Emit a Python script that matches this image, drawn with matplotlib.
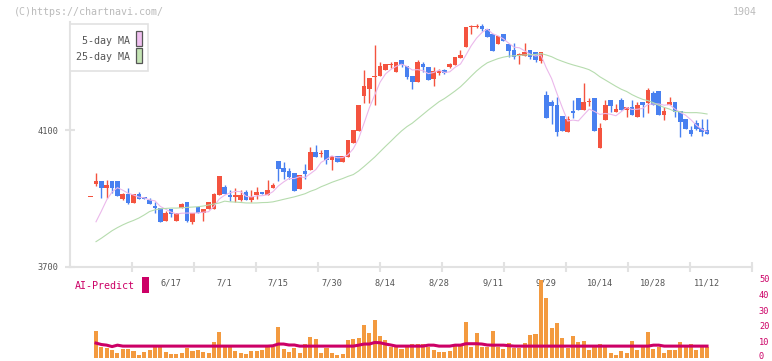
import numpy as np
import pandas as pd
import matplotlib
matplotlib.use("Agg")
import matplotlib.pyplot as plt
from matplotlib.patches import Rectangle
from matplotlib.transforms import ScaledTranslation

# ---- data (index 0 = flat no-trade day) ----
opens = [3903, 3943, 3951, 3930, 3951, 3951, 3898, 3914, 3888, 3914,
         3905, 3895, 3878, 3873, 3835, 3869, 3835, 3873, 3889, 3831,
         3875, 3857, 3868, 3868, 3909, 3933, 3910, 3903, 3896, 3918,
         3896, 3909, 3919, 3909, 3930, 4009, 3989, 3979, 3974, 3929,
         3980, 3983, 4036, 4029, 4042, 4012, 4024, 4007, 4020, 4063,
         4098, 4200, 4220, 4256, 4258, 4275, 4290, 4269, 4304, 4287,
         4258, 4240, 4293, 4284, 4249, 4266, 4275, 4284, 4290, 4310,
         4342, 4402, 4402, 4404, 4395, 4380, 4351, 4380, 4351, 4334,
         4319, 4316, 4334, 4328, 4301, 4202, 4182, 4173, 4141, 4095,
         4155, 4193, 4158, 4182, 4193, 4048, 4130, 4188, 4153, 4188,
         4158, 4167, 4138, 4182, 4179, 4208, 4214, 4144, 4173, 4182,
         4155, 4132, 4100, 4120, 4106, 4100]
highs = [3903, 3974, 3951, 3954, 3951, 3951, 3916, 3930, 3914, 3920,
         3905, 3901, 3891, 3873, 3864, 3869, 3858, 3888, 3889, 3857,
         3878, 3868, 3890, 3915, 3966, 3939, 3925, 3931, 3924, 3924,
         3924, 3933, 3919, 3954, 3946, 4009, 4007, 3989, 3974, 3969,
         4001, 4050, 4056, 4042, 4042, 4024, 4024, 4024, 4071, 4100,
         4173, 4275, 4252, 4348, 4298, 4293, 4298, 4298, 4304, 4287,
         4258, 4304, 4298, 4284, 4284, 4278, 4278, 4296, 4313, 4334,
         4401, 4407, 4410, 4410, 4395, 4380, 4374, 4380, 4351, 4354,
         4325, 4354, 4334, 4328, 4328, 4214, 4188, 4196, 4141, 4141,
         4188, 4193, 4237, 4193, 4193, 4120, 4188, 4188, 4176, 4193,
         4167, 4188, 4182, 4182, 4223, 4214, 4214, 4167, 4196, 4182,
         4155, 4132, 4112, 4129, 4132, 4132]
lows = [3903, 3937, 3902, 3902, 3917, 3908, 3897, 3883, 3887, 3898,
        3898, 3883, 3857, 3832, 3835, 3847, 3835, 3873, 3831, 3826,
        3857, 3835, 3868, 3868, 3909, 3912, 3892, 3890, 3892, 3896,
        3890, 3898, 3912, 3909, 3930, 3951, 3957, 3957, 3923, 3929,
        3957, 3983, 4021, 4021, 4001, 3983, 4007, 4007, 4020, 4063,
        4098, 4180, 4179, 4173, 4258, 4275, 4281, 4269, 4284, 4249,
        4220, 4240, 4269, 4246, 4228, 4260, 4263, 4281, 4290, 4310,
        4342, 4380, 4398, 4389, 4371, 4331, 4351, 4360, 4313, 4307,
        4293, 4316, 4307, 4298, 4296, 4136, 4118, 4083, 4098, 4095,
        4135, 4158, 4158, 4170, 4098, 4048, 4130, 4153, 4153, 4158,
        4138, 4144, 4138, 4138, 4150, 4173, 4144, 4129, 4173, 4138,
        4080, 4103, 4082, 4100, 4082, 4088]
closes = [3903, 3951, 3930, 3939, 3930, 3908, 3914, 3886, 3914, 3898,
          3898, 3883, 3873, 3832, 3858, 3854, 3858, 3883, 3835, 3857,
          3857, 3868, 3890, 3912, 3966, 3912, 3903, 3910, 3910, 3896,
          3904, 3919, 3912, 3924, 3940, 3987, 3978, 3963, 3923, 3969,
          3972, 4036, 4021, 4030, 4012, 4024, 4007, 4024, 4071, 4100,
          4173, 4228, 4252, 4258, 4287, 4293, 4293, 4298, 4290, 4255,
          4240, 4298, 4284, 4246, 4272, 4272, 4266, 4293, 4313, 4319,
          4401, 4404, 4404, 4395, 4371, 4331, 4374, 4360, 4331, 4313,
          4322, 4328, 4313, 4304, 4328, 4136, 4170, 4095, 4098, 4132,
          4150, 4158, 4182, 4183, 4098, 4106, 4173, 4170, 4161, 4158,
          4167, 4144, 4173, 4173, 4217, 4173, 4144, 4155, 4182, 4153,
          4123, 4103, 4088, 4103, 4094, 4088]
volumes = [0, 16.7, 6.7, 6.1, 4.8, 2.9, 5.4, 5.4, 4.2, 1.7,
           3.6, 4.8, 6.7, 6.7, 3.6, 2.3, 2.3, 2.9, 6.1, 4.2,
           4.8, 3.6, 2.9, 9.8, 16.1, 6.7, 6.7, 4.2, 2.9, 2.3,
           4.2, 4.2, 4.8, 6.7, 6.7, 19.2, 5.4, 3.6, 6.1, 2.9,
           8.6, 12.9, 11.7, 2.9, 6.1, 2.9, 1.7, 2.3, 11.0, 11.7,
           12.3, 20.4, 15.4, 23.6, 13.6, 11.0, 6.7, 6.7, 5.4, 6.7,
           8.6, 8.6, 8.6, 6.7, 4.8, 3.6, 3.6, 4.2, 7.3, 7.3,
           22.3, 6.7, 15.4, 6.7, 6.7, 16.7, 6.7, 5.7, 9.2, 6.0,
           6.0, 9.2, 14.2, 14.8, 49.2, 37.3, 18.6, 21.7, 12.3, 6.0,
           13.6, 9.8, 10.4, 4.8, 6.7, 8.6, 6.7, 2.9, 1.7, 4.2,
           2.9, 10.4, 4.8, 6.7, 16.1, 5.4, 6.7, 2.9, 4.8, 4.8,
           9.8, 6.7, 8.6, 4.8, 6.7, 6.7]
ai_predict = [np.nan, 9.2, 8.3, 7.9, 7.0, 7.9, 7.3, 7.3, 7.3, 7.3,
              7.3, 7.3, 7.3, 7.3, 7.3, 7.3, 7.3, 7.3, 7.3, 7.3,
              7.3, 7.3, 7.3, 7.3, 7.3, 7.3, 7.3, 7.3, 7.3, 7.3,
              7.3, 7.3, 7.3, 7.3, 7.5, 8.6, 8.6, 8.0, 8.0, 7.3,
              7.3, 7.3, 7.3, 7.3, 7.3, 7.3, 7.3, 7.3, 7.3, 7.3,
              7.9, 8.6, 8.6, 9.6, 9.4, 8.6, 8.0, 7.3, 7.3, 7.3,
              7.3, 7.3, 7.3, 7.9, 7.9, 7.3, 7.3, 7.3, 7.9, 7.9,
              8.8, 8.8, 8.8, 8.6, 8.0, 7.9, 7.9, 7.9, 7.6, 7.3,
              7.3, 7.3, 7.3, 7.3, 7.3, 7.3, 7.3, 7.3, 7.3, 7.3,
              7.3, 7.3, 7.3, 7.3, 7.3, 7.3, 7.3, 7.3, 7.3, 7.3,
              7.3, 7.3, 7.3, 7.3, 7.3, 7.9, 7.9, 7.3, 7.3, 7.3,
              7.3, 7.3, 7.3, 7.3, 7.3, 7.3]
# moving-average values before enough closes are on screen
ma5_head = [3832, 3863, 3896, 3919]
ma25_head = [3774, 3784, 3795, 3806, 3815, 3823, 3830, 3836, 3843, 3852,
             3862, 3867, 3870, 3871, 3872, 3872, 3873, 3874, 3875, 3876,
             3878, 3881, 3884, 3887]
date_idx = [15, 25, 35, 45, 55, 65, 75, 85, 95, 105, 115]
date_labels = ['6/17', '7/1', '7/15', '7/30', '8/14', '8/28',
               '9/11', '9/29', '10/14', '10/28', '11/12']

W, H = 772, 361
UP, DOWN = '#f4533f', '#4880f0'
GRID = '#e2e2e2'
MAG = '#cc0066'
MONO = 'DejaVu Sans Mono'

df = pd.DataFrame({'open': opens, 'high': highs, 'low': lows,
                   'close': closes, 'volume': volumes, 'ai': ai_predict})
traded = df['close'].iloc[1:]
ma5 = traded.rolling(5).mean()
ma5.iloc[:4] = ma5_head
ma25 = traded.rolling(25).mean()
ma25.iloc[:24] = ma25_head

# pixel geometry of the original
x0_px, step_px = 90.64, 5.36
px2x = lambda px: (px - x0_px) / step_px
ppp = 400 / 137.0            # price units per pixel
ytop = 4415
top_px = 267 - (ytop - 3700) / ppp

fig = plt.figure(figsize=(W / 100, H / 100), dpi=100)
fx = lambda px: px / W
fy = lambda py: 1 - py / H

ax = fig.add_axes([fx(70), fy(267), fx(752) - fx(70), (267 - top_px) / H])
ax.set_xlim(px2x(70), px2x(752))
ax.set_ylim(3700, ytop)

idx = np.arange(len(df))
up = df['close'] >= df['open']
colors = np.where(up, UP, DOWN)
body_lo = np.minimum(df['open'], df['close'])
body_h = np.maximum((df['close'] - df['open']).abs(), 3.0)
ax.vlines(idx, df['low'], df['high'], colors=colors, linewidth=1.0, zorder=2)
ax.bar(idx, body_h, bottom=body_lo, width=0.86, color=colors, linewidth=0, zorder=3)

ax.plot(ma5.index, ma5.values, color='#ebb8eb', linewidth=0.8, zorder=4)
ax.plot(ma25.index, ma25.values, color='#b6dcae', linewidth=0.8, zorder=4)

for s in ['top', 'right']:
    ax.spines[s].set_visible(False)
for s in ['left', 'bottom']:
    ax.spines[s].set_color(GRID)
    ax.spines[s].set_linewidth(1.5)

sep = [px2x(p) for p in range(132, 753, 62)]
ax.set_xticks(sep)
ax.set_xticklabels([])
ax.tick_params(axis='x', direction='inout', length=7, width=1.5, color=GRID)
ax.set_yticks([3700, 4100])
ax.set_yticklabels(['3700', '4100'], fontsize=6.2, color='#555555', family=MONO)
ax.tick_params(axis='y', direction='inout', length=7, width=1.5, color=GRID, pad=5)

trans = ax.get_xaxis_transform()
for i, lab in zip(date_idx, date_labels):
    ax.text(i, -(283 - 267) / (267 - top_px), lab, transform=trans, ha='center',
            va='center', fontsize=6.2, color='#555555', family=MONO)

# volume panel
vax = fig.add_axes([fx(70), fy(357.7), fx(752) - fx(70), (357.7 - 275) / H])
vax.set_xlim(px2x(70), px2x(752))
vax.set_ylim(0, (357.7 - 275) / 1.588)
vax.bar(idx, df['volume'], width=0.76, color='#f39a3f', linewidth=0, zorder=2)
vax.plot(idx, df['ai'], color=MAG, linewidth=2.2, zorder=3)
for s in vax.spines.values():
    s.set_visible(False)
vax.set_xticks([])
vax.yaxis.tick_right()
vax.set_yticks([0, 10, 20, 30, 40, 50])
vax.set_yticklabels(['0', '10', '20', '30', '40', '50'], fontsize=6.2,
                    color=MAG, family=MONO)
vax.tick_params(axis='y', length=0, pad=5)
vax.patch.set_alpha(0)
# nudge the bottom "0" up so it stays inside the canvas
lab0 = vax.get_yticklabels()[0]
lab0.set_transform(lab0.get_transform() + ScaledTranslation(0, 2.5 / 100, fig.dpi_scale_trans))

# legend box
fig.add_artist(Rectangle((fx(70), fy(71)), fx(148) - fx(70), (71 - 24) / H,
                         transform=fig.transFigure, facecolor='white',
                         edgecolor=GRID, linewidth=1.2, zorder=5))
fig.add_artist(Rectangle((fx(136), fy(46)), fx(6), 15 / H, transform=fig.transFigure,
                         facecolor='#f0c0f0', edgecolor='#555555', linewidth=0.9, zorder=6))
fig.add_artist(Rectangle((fx(136), fy(63)), fx(6), 15 / H, transform=fig.transFigure,
                         facecolor='#c4e4b4', edgecolor='#555555', linewidth=0.9, zorder=6))
fig.text(fx(130), fy(41), '5-day MA', ha='right', va='center', fontsize=7.2,
         color='#555555', family=MONO, zorder=6)
fig.text(fx(130), fy(57), '25-day MA', ha='right', va='center', fontsize=7.2,
         color='#555555', family=MONO, zorder=6)

fig.text(fx(14), fy(12), '(C)https://chartnavi.com/', ha='left', va='center',
         fontsize=7.2, color='#bbbbbb', family=MONO)
fig.text(fx(757), fy(12), '1904', ha='right', va='center', fontsize=7.2,
         color='#bbbbbb', family=MONO)

fig.text(fx(75), fy(286), 'AI-Predict', ha='left', va='center', fontsize=7.2,
         color=MAG, family=MONO)
fig.add_artist(Rectangle((fx(142), fy(292.5)), fx(6.5), 15.5 / H,
                         transform=fig.transFigure, facecolor=MAG, linewidth=0))

fig.savefig('out.png', dpi=100)
